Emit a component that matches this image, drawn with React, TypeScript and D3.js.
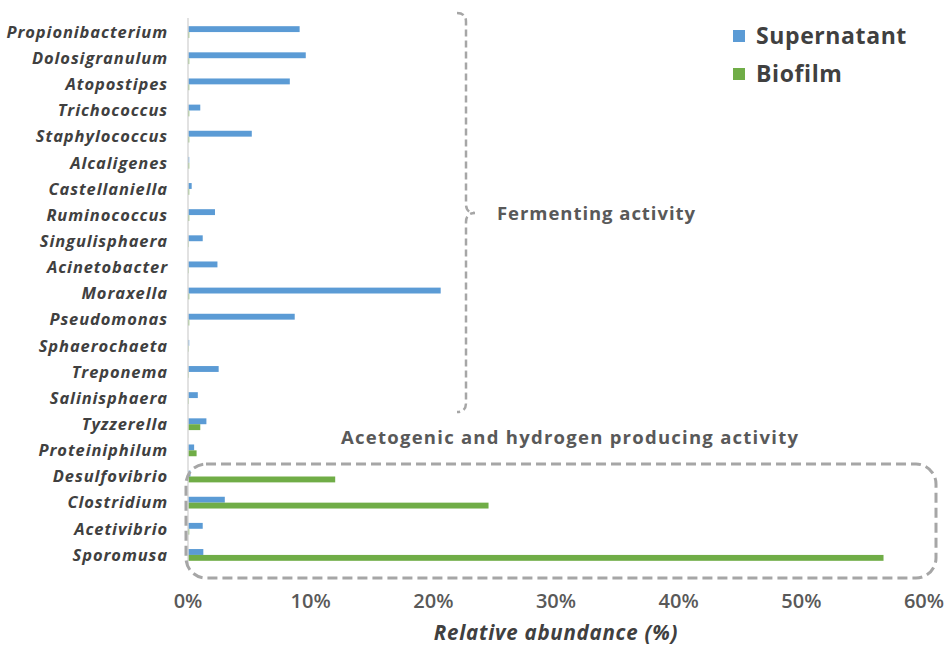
import React from "react";
import * as d3 from "d3";

const categories = [
  "Propionibacterium", "Dolosigranulum", "Atopostipes", "Trichococcus", "Staphylococcus",
  "Alcaligenes", "Castellaniella", "Ruminococcus", "Singulisphaera", "Acinetobacter",
  "Moraxella", "Pseudomonas", "Sphaerochaeta", "Treponema", "Salinisphaera",
  "Tyzzerella", "Proteiniphilum", "Desulfovibrio", "Clostridium", "Acetivibrio", "Sporomusa",
];
const supernatant = [9.1, 9.6, 8.3, 1.0, 5.2, 0.1, 0.3, 2.2, 1.2, 2.4, 20.6, 8.7, 0.1, 2.5, 0.8, 1.5, 0.5, 0.2, 3.0, 1.2, 1.25];
const biofilm = [0.1, 0.1, 0.1, 0.1, 0.1, 0.1, 0.1, 0.1, 0.05, 0.05, 0.1, 0.1, 0.05, 0.05, 0.05, 1.0, 0.7, 12.0, 24.5, 0.1, 56.7];
const seriesNames = ["Supernatant", "Biofilm"];
const seriesColors = ["#5b9bd5", "#70ad47"];
const xTicks = [0, 10, 20, 30, 40, 50, 60];
const groupLabels = ["Fermenting activity", "Acetogenic and hydrogen producing activity"];
const axisTitle = "Relative abundance (%)";

const W = 950, H = 648;

export default function App() {
  const x = d3.scaleLinear().domain([0, 60]).range([188, 924]);
  const y = d3.scaleBand<string>().domain(categories).range([19, 568]).paddingInner(0.55).paddingOuter(0.275);
  const sub = d3.scaleBand<string>().domain(seriesNames).range([0, y.bandwidth()]);
  const data = [supernatant, biofilm];
  const labelFont = "'Open Sans', sans-serif";
  const grey = "#a6a6a6";
  const brace = "M457,13 Q466,13 466,22 L466,204 Q466,213 475,213 Q466,213 466,222 L466,403 Q466,412 457,412";
  return (
    <svg width={W} height={H} style={{ position: "absolute", left: 0, top: 0, background: "#fff" }} fontFamily={labelFont}>
      <rect width={W} height={H} fill="#fff" />
      {data.map((vals, si) =>
        vals.map((v, i) => (
          <rect key={`${si}-${i}`} x={x(0)} y={(y(categories[i]) as number) + (sub(seriesNames[si]) as number)}
            width={x(v) - x(0)} height={sub.bandwidth()} fill={seriesColors[si]} />
        ))
      )}
      <line x1={x(0)} x2={x(0)} y1={18} y2={566} stroke="#d9d9d9" strokeWidth={1.5} />
      {categories.map((c) => (
        <text key={c} x={168} y={(y(c) as number) + y.bandwidth() / 2} dy="0.35em" textAnchor="end"
          fontSize={16.5} fontWeight="bold" fontStyle="italic" fill="#404040" letterSpacing={0.9}>{c}</text>
      ))}
      {xTicks.map((t) => (
        <text key={t} x={x(t)} y={601} dy="0.35em" textAnchor="middle" fontSize={20} fontWeight="600" fill="#595959">{t}%</text>
      ))}
      <text x={(x(0) + x(60)) / 2} y={633} dy="0.35em" textAnchor="middle" fontSize={20.5} fontWeight="bold" fontStyle="italic" fill="#404040" letterSpacing={0.75}>{axisTitle}</text>
      {seriesNames.map((s, i) => (
        <g key={s} transform={`translate(733, ${36 + i * 38})`}>
          <rect x={0} y={-6} width={12} height={12} fill={seriesColors[i]} />
          <text x={23} y={0} dy="0.35em" fontSize={23} fontWeight="bold" fill="#404040" letterSpacing={0.6}>{s}</text>
        </g>
      ))}
      <path d={brace} fill="none" stroke={grey} strokeWidth={2.5} strokeDasharray="7,4" />
      <text x={497} y={214} dy="0.35em" fontSize={18.5} fontWeight="bold" fill="#595959" letterSpacing={0.95}>{groupLabels[0]}</text>
      <text x={341} y={438} dy="0.35em" fontSize={18.5} fontWeight="bold" fill="#595959" letterSpacing={1.25}>{groupLabels[1]}</text>
      <rect x={186} y={464} width={750} height={114} rx={20} ry={20} fill="none" stroke={grey} strokeWidth={3} strokeDasharray="10,5" />
    </svg>
  );
}
